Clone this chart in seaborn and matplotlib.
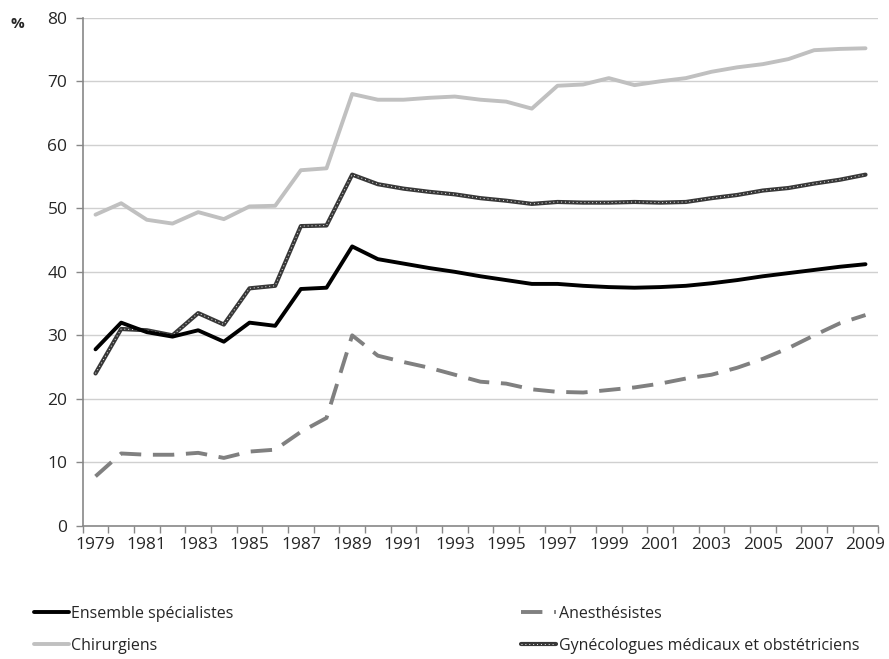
import numpy as np
import pandas as pd
import matplotlib
matplotlib.use("Agg")
import matplotlib.pyplot as plt
from matplotlib.ticker import MultipleLocator, FixedLocator
from matplotlib.lines import Line2D
import seaborn as sns

# données (%)
years = list(range(1979, 2010))
ensemble = [27.8, 32.0, 30.5, 29.8, 30.8, 29.0, 32.0, 31.5, 37.3, 37.5,
            44.0, 42.0, 41.3, 40.6, 40.0, 39.3, 38.7, 38.1, 38.1, 37.8,
            37.6, 37.5, 37.6, 37.8, 38.2, 38.7, 39.3, 39.8, 40.3, 40.8, 41.2]
anesth = [7.8, 11.4, 11.2, 11.2, 11.5, 10.7, 11.7, 12.0, 14.8, 17.0,
          30.0, 26.8, 25.8, 24.9, 23.8, 22.7, 22.4, 21.5, 21.1, 21.0,
          21.4, 21.8, 22.4, 23.2, 23.8, 24.9, 26.3, 28.0, 30.0, 31.9, 33.2]
chirurgiens = [49.0, 50.8, 48.2, 47.6, 49.4, 48.3, 50.3, 50.4, 56.0, 56.3,
               68.0, 67.1, 67.1, 67.4, 67.6, 67.1, 66.8, 65.7, 69.3, 69.5,
               70.5, 69.4, 70.0, 70.5, 71.5, 72.2, 72.7, 73.5, 74.9, 75.1, 75.2]
gyneco = [24.0, 31.0, 30.8, 30.0, 33.5, 31.7, 37.4, 37.8, 47.2, 47.3,
          55.3, 53.8, 53.1, 52.6, 52.2, 51.6, 51.2, 50.7, 51.0, 50.9,
          50.9, 51.0, 50.9, 51.0, 51.6, 52.1, 52.8, 53.2, 53.9, 54.5, 55.3]

df = pd.DataFrame({"annee": years, "ens": ensemble, "anes": anesth,
                   "chir": chirurgiens, "gyn": gyneco})

sns.set_theme(style="white")
plt.rcParams['font.family'] = ['Open Sans', 'DejaVu Sans']

fig = plt.figure(figsize=(8.89, 6.59), dpi=100)
ax = fig.add_axes([0.093, 0.202, 0.895, 0.771])

ax.yaxis.grid(True, color='#d0d0d0', linewidth=1)
ax.set_axisbelow(True)

sns.lineplot(data=df, x="annee", y="chir", ax=ax, color='#c0c0c0', linewidth=2.8,
             solid_capstyle='round')
sns.lineplot(data=df, x="annee", y="anes", ax=ax, color='#808080', linewidth=2.8)
ax.lines[-1].set_linestyle((0, (5.5, 3)))
# gynécologues : trait gris foncé avec pointillés blancs par-dessus
sns.lineplot(data=df, x="annee", y="gyn", ax=ax, color='#383838', linewidth=3.0)
sns.lineplot(data=df, x="annee", y="gyn", ax=ax, color='#f0f0f0', linewidth=0.7)
ax.lines[-1].set_linestyle((0, (1, 3)))
sns.lineplot(data=df, x="annee", y="ens", ax=ax, color='black', linewidth=2.8,
             solid_capstyle='round')

ax.set_xlim(1978.5, 2009.5)
ax.set_ylim(0, 80)
ax.yaxis.set_major_locator(MultipleLocator(10))
ax.xaxis.set_major_locator(FixedLocator(years[::2]))
ax.xaxis.set_minor_locator(FixedLocator(np.arange(1978.5, 2010, 1)))
ax.tick_params(axis='x', which='major', length=0, pad=8, labelsize=12.5)
ax.tick_params(axis='x', which='minor', length=5, width=1, color='#888888', bottom=True)
ax.tick_params(axis='y', length=5, width=1, color='#888888', left=True, pad=6, labelsize=12.5)
ax.set_xlabel("")
ax.set_ylabel("")

for s in ['top', 'right']:
    ax.spines[s].set_visible(False)
for s in ['left', 'bottom']:
    ax.spines[s].set_color('#888888')
    ax.spines[s].set_linewidth(1.2)

fig.text(0.012, 0.958, "%", fontsize=11, fontweight='bold')

h_ens = Line2D([], [], color='black', linewidth=2.8)
h_chir = Line2D([], [], color='#c0c0c0', linewidth=2.8)
h_anes = Line2D([], [], color='#808080', linewidth=2.8, linestyle=(0, (5.5, 3)))
h_gyn = (Line2D([], [], color='#383838', linewidth=3.0),
         Line2D([], [], color='#f0f0f0', linewidth=0.7, linestyle=(0, (1, 3))))
fig.legend([h_ens, h_chir, h_anes, h_gyn],
           ["Ensemble spécialistes", "Chirurgiens", "Anesthésistes",
            "Gynécologues médicaux et obstétriciens"],
           ncol=2, loc='lower left', bbox_to_anchor=(0.022, -0.014), frameon=False,
           fontsize=11.5, handlelength=2.2, handletextpad=0.15, columnspacing=18.0,
           labelspacing=1.0)

fig.savefig("out.png", dpi=100, facecolor='white')
